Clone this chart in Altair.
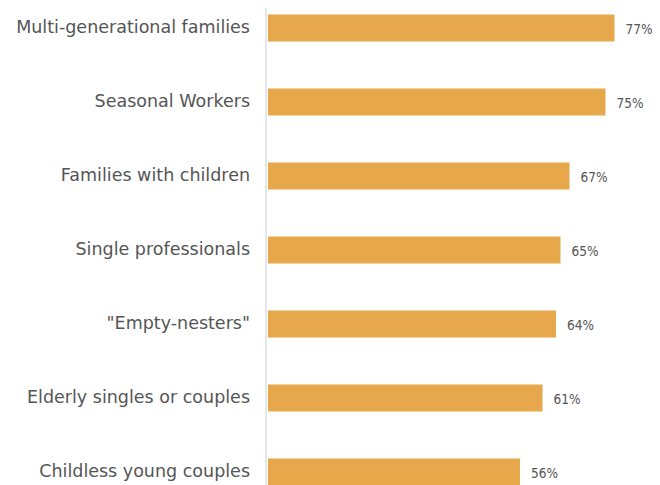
import altair as alt
import pandas as pd

categories = [
    "Multi-generational families",
    "Seasonal Workers",
    "Families with children",
    "Single professionals",
    "\"Empty-nesters\"",
    "Elderly singles or couples",
    "Childless young couples",
]
values = [77, 75, 67, 65, 64, 61, 56]
labels = ["77%", "75%", "67%", "65%", "64%", "61%", "56%"]

df = pd.DataFrame({
    "category": categories,
    "value": values,
    "label": labels,
    "idx": list(range(len(categories))),
    "zero": [0] * len(categories),
})

W, H = 369, 477
xs = alt.Scale(domain=[0, 82], nice=False, zero=True)
ys = alt.Scale(domain=[-0.27, 6.176], nice=False, zero=False, reverse=True)

base = alt.Chart(df)

axis_line = base.mark_rule(color="#e6e6e6", strokeWidth=1).encode(
    x=alt.value(-2), y=alt.value(0), y2=alt.value(H)
)

bars = base.mark_rule(color="#E6A84B", strokeWidth=27, strokeCap="butt").encode(
    x=alt.X("value:Q", scale=xs, axis=None),
    x2=alt.X2("zero:Q"),
    y=alt.Y("idx:Q", scale=ys, axis=None),
)

cat_text = base.mark_text(
    align="right", baseline="middle", dx=-18, fontSize=17.5,
    font="DejaVu Sans", color="#555555"
).encode(
    x=alt.X("zero:Q", scale=xs, axis=None),
    y=alt.Y("idx:Q", scale=ys, axis=None),
    text="category:N",
)

val_text = base.mark_text(
    align="left", baseline="middle", dx=11, dy=2, fontSize=13.5,
    font="DejaVu Sans Condensed", color="#555555"
).encode(
    x=alt.X("value:Q", scale=xs, axis=None),
    y=alt.Y("idx:Q", scale=ys, axis=None),
    text="label:N",
)

chart = alt.layer(axis_line, bars, cat_text, val_text).properties(
    width=W, height=H,
    autosize=alt.AutoSizeParams(type="none"),
    padding={"left": 260, "top": 0, "right": 15, "bottom": 0},
    background="white",
).configure_view(stroke=None)

chart.save("out.html", embed_options={"renderer": "svg", "actions": False})
